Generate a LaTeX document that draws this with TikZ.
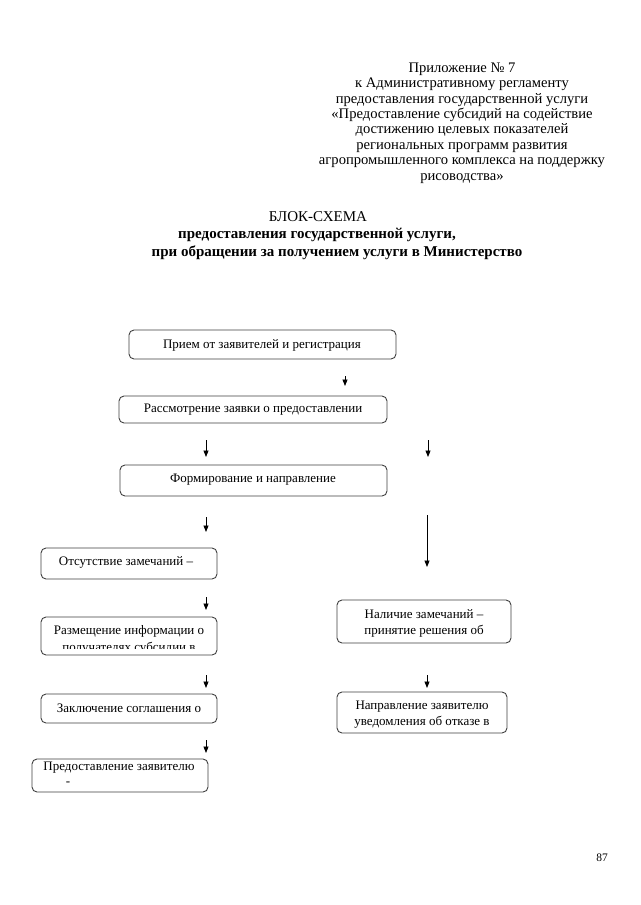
\documentclass[tikz,border=0pt]{standalone}
\usepackage{fontspec}
\setmainfont{Liberation Serif}
\usetikzlibrary{arrows.meta}
\begin{document}
\begin{tikzpicture}[x=1pt,y=-1pt,
  blk/.style={draw=black!75, line width=0.9pt, rounded corners=5pt, inner sep=0pt},
  btxt/.style={font=\fontsize{13}{16.5}\selectfont, inner sep=0pt, align=center},
  arr/.style={line width=0.8pt, -{Triangle[length=6.5pt,width=5pt]}},
  hdr/.style={font=\fontsize{14.6}{15.4}\selectfont, align=center, inner sep=0pt},
  ttl/.style={font=\fontsize{15}{17}\selectfont, inner sep=0pt},
  ttlb/.style={font=\fontsize{15}{17}\selectfont\bfseries, inner sep=0pt}]
\useasboundingbox[fill=white] (0,0) rectangle (640,905);

% header
\node[hdr] (hdr) at (462,123) {Приложение № 7\\к Административному регламенту\\предоставления государственной услуги\\«Предоставление субсидий на содействие\\достижению целевых показателей\\региональных программ развития\\агропромышленного комплекса на поддержку\\рисоводства»};

\node[ttl] (t1) at (318,217) {БЛОК-СХЕМА};
\node[ttlb] (t2) at (317,235) {предоставления государственной услуги,};
\node[ttlb] (t3) at (337,253) {при обращении за получением услуги в Министерство};

% boxes
\node[blk, minimum width=267pt, minimum height=29pt] (b1) at (262.5,344.5) {};
\node[blk, minimum width=268pt, minimum height=27pt] (b2) at (253,409.5) {};
\node[blk, minimum width=267pt, minimum height=31pt] (b3) at (253.5,480.5) {};
\node[blk, minimum width=176pt, minimum height=31pt] (b4) at (129,563.5) {};
\node[blk, minimum width=176pt, minimum height=38pt] (b5) at (129,636) {};
\node[blk, minimum width=176pt, minimum height=29pt] (b6) at (129,708.5) {};
\node[blk, minimum width=176pt, minimum height=33pt] (b7) at (120,775.5) {};
\node[blk, minimum width=174pt, minimum height=43pt] (r1) at (424,621.5) {};
\node[blk, minimum width=170pt, minimum height=41pt] (r2) at (422,712.5) {};

% texts
\node[btxt] (tb1) at (262,345) {Прием от заявителей и регистрация};
\node[btxt] (tb2) at (253,409.5) {Рассмотрение заявки о предоставлении};
\node[btxt] (tb3) at (253,480) {Формирование и направление};
\node[btxt] (tb4) at (126,562.5) {Отсутствие замечаний –};
\begin{scope}
  \clip (41,617) rectangle (217,648);
  \node[btxt] (tb5) at (129,640) {Размещение информации о\\получателях субсидии в};
\end{scope}
\node[btxt] (tb6) at (129,708) {Заключение соглашения о};
\node[btxt] (tb7) at (119,767.5) {Предоставление заявителю};
\node[btxt] (tb7b) at (68,784) {-};
\node[btxt] (tr1) at (424,623.5) {Наличие замечаний –\\принятие решения об};
\node[btxt] (tr2) at (422,714.5) {Направление заявителю\\уведомления об отказе в};

% arrows
\coordinate (a1s) at (345,376); \coordinate (a1e) at (345,386);
\coordinate (a2s) at (206,440); \coordinate (a2e) at (206,457);
\coordinate (a3s) at (428,440); \coordinate (a3e) at (428,457);
\coordinate (a4s) at (206,517); \coordinate (a4e) at (206,532);
\coordinate (a5s) at (427,515); \coordinate (a5e) at (427,567);
\coordinate (a6s) at (206,597); \coordinate (a6e) at (206,610);
\coordinate (a7s) at (206,675); \coordinate (a7e) at (206,688);
\coordinate (a8s) at (427,675); \coordinate (a8e) at (427,688);
\coordinate (a9s) at (206,740); \coordinate (a9e) at (206,753);
\foreach \i in {1,...,9} {\draw[arr] (a\i s) -- (a\i e);}

\node[font=\fontsize{11.5}{13}\selectfont, inner sep=0pt] (pg) at (602,858) {87};
\end{tikzpicture}
\end{document}
